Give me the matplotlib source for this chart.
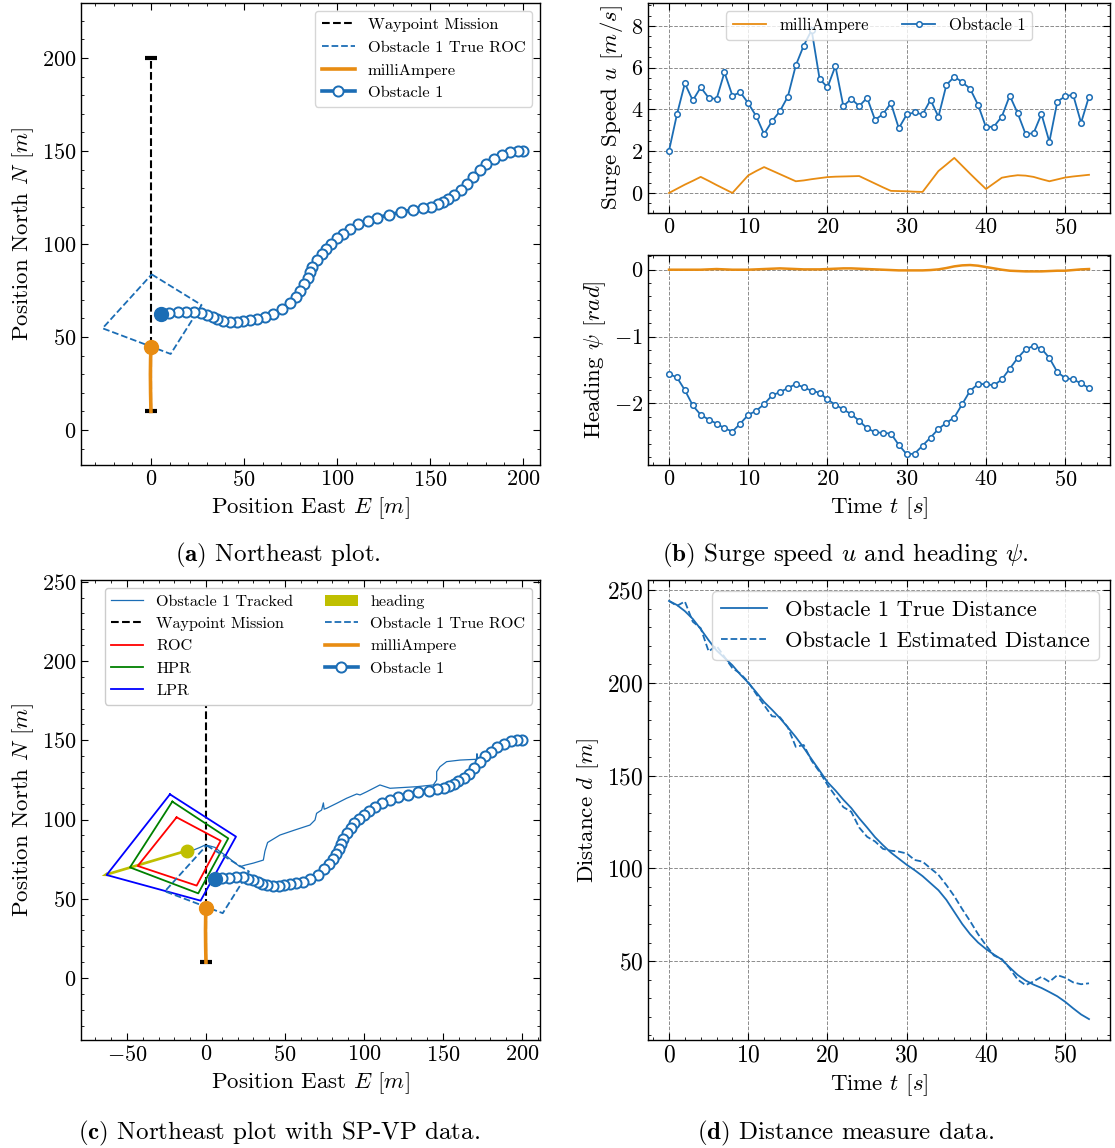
import numpy as np
import matplotlib.pyplot as plt
from matplotlib.ticker import MultipleLocator

plt.rcParams.update({
    'font.family': 'cmr10',
    'mathtext.fontset': 'cm',
    'axes.formatter.use_mathtext': True,
    'axes.linewidth': 1.0,
    'xtick.direction': 'in', 'ytick.direction': 'in',
    'xtick.top': True, 'ytick.right': True,
    'xtick.minor.visible': True, 'ytick.minor.visible': True,
    'xtick.major.size': 5, 'ytick.major.size': 5,
    'xtick.minor.size': 2.5, 'ytick.minor.size': 2.5,
    'xtick.major.width': 0.8, 'ytick.major.width': 0.8,
    'xtick.minor.width': 0.6, 'ytick.minor.width': 0.6,
    'xtick.labelsize': 16, 'ytick.labelsize': 16,
    'axes.labelsize': 16.5,
})

BLUE = '#1b6db5'
ORANGE = '#e88c12'

# time axis (s)
t = np.arange(54)

# obstacle 1 position, east / north (m), in order of travel
obs_east = [200.2, 197.1, 193.0, 188.5, 184.4, 180.1, 176.9, 173.3, 169.7, 166.5,
            163.1, 159.5, 156.8, 154.1, 150.4, 146.1, 141.0, 134.4, 127.8, 121.3,
            116.5, 111.5, 107.0, 103.4, 99.8, 96.6, 93.9, 91.8, 89.1, 86.7,
            85.5, 84.2, 82.4, 80.1, 78.0, 74.7, 70.6, 65.8, 61.3, 56.8,
            53.2, 49.6, 46.4, 42.5, 38.5, 35.3, 33.2, 29.9, 26.9, 23.3,
            18.8, 14.3, 9.9, 5.4]
obs_north = [150.2, 150.0, 149.5, 147.8, 145.5, 142.8, 139.8, 136.2, 132.3, 128.9,
             126.2, 124.0, 122.6, 121.3, 120.1, 119.2, 118.3, 117.2, 115.6, 114.2,
             112.4, 110.6, 107.9, 105.6, 103.0, 100.2, 97.5, 94.6, 91.4, 87.8,
             84.8, 81.5, 78.3, 74.9, 71.7, 68.5, 65.1, 62.4, 60.6, 59.7,
             59.1, 58.6, 58.1, 58.1, 58.6, 59.5, 60.6, 61.8, 62.7, 63.6,
             63.6, 63.4, 63.1, 62.2]

# own ship (milliAmpere) track
ma_east = [0.0, -0.2, -0.3, -0.2, 0.0]
ma_north = [10.0, 20.0, 30.0, 38.0, 44.4]

# waypoint mission
wp_east = [0, 0]
wp_north = [10, 200]

# true region of collision around obstacle 1
roc_true_east = [0.4, 27.2, 10.6, -26.0, 0.4]
roc_true_north = [83.7, 67.2, 40.9, 54.7, 83.7]

# tracked obstacle from SP-VP
trk_east = [200.8, 192.4, 183.9, 177.6, 174.5, 172.0, 171.5, 171.3, 160.8, 152.3,
            148.1, 146.0, 146.0, 143.9, 133.3, 116.5, 110.1, 101.7, 97.5, 95.4,
            89.0, 82.7, 76.4, 74.8, 74.3, 73.2, 70.0, 69.0, 65.8, 56.3,
            46.8, 39.0, 37.3, 36.3, 30.0, 24.7, 21.5, 17.3, 13.1, 8.9, 5.7,
            2.5, -0.6, -3.8, -8.0, -12.2]
trk_north = [150.5, 149.7, 146.0, 142.2, 138.6, 138.0, 141.5, 138.0, 137.5, 136.5,
             133.3, 130.2, 124.9, 121.8, 120.7, 119.7, 121.8, 117.5, 115.5, 116.1,
             113.4, 110.2, 107.1, 106.5, 110.5, 106.0, 103.9, 99.7, 96.5, 93.4,
             90.2, 85.5, 80.0, 74.4, 72.5, 71.2, 70.2, 73.4, 76.9, 79.7, 82.4,
             83.3, 83.9, 82.4, 80.7, 80.1]
est_pos = (-12.2, 80.3)
heading_tip = (-66.0, 64.4)

# SP-VP regions
roc_east = [-18.6, 9.3, -5.9, -43.2, -18.6]
roc_north = [101.4, 86.6, 58.3, 70.7, 101.4]
hpr_east = [-21.3, 14.1, -4.9, -48.1, -21.3]
hpr_north = [111.3, 88.1, 53.4, 69.8, 111.3]
lpr_east = [-22.8, 19.0, -3.4, -62.9, -22.8]
lpr_north = [115.9, 89.2, 48.8, 65.0, 115.9]

# surge speed (m/s)
u_obs = [2.02, 3.76, 5.25, 4.43, 5.06, 4.56, 4.50, 5.78, 4.66, 4.82,
         4.30, 3.68, 2.82, 3.44, 3.92, 4.62, 6.11, 7.06, 7.80, 5.47,
         5.06, 6.08, 4.16, 4.51, 4.16, 4.56, 3.50, 3.78, 4.30, 3.10,
         3.76, 3.86, 3.76, 4.46, 3.65, 5.17, 5.57, 5.31, 4.99, 4.22,
         3.15, 3.18, 3.66, 4.66, 3.82, 2.82, 2.86, 3.78, 2.45, 4.37,
         4.64, 4.70, 3.36, 4.62]
u_ma = [0.00, 0.20, 0.40, 0.58, 0.77, 0.58, 0.38, 0.19, 0.00, 0.42,
        0.84, 1.05, 1.24, 1.07, 0.90, 0.73, 0.56, 0.60, 0.66, 0.71,
        0.76, 0.78, 0.79, 0.80, 0.81, 0.63, 0.45, 0.27, 0.10, 0.09,
        0.08, 0.06, 0.05, 0.55, 1.05, 1.36, 1.68, 1.30, 0.92, 0.55,
        0.19, 0.46, 0.73, 0.80, 0.85, 0.83, 0.77, 0.66, 0.56, 0.65,
        0.74, 0.79, 0.83, 0.87]

# heading (rad)
psi_obs = [-1.56, -1.61, -1.80, -2.03, -2.17, -2.24, -2.30, -2.37, -2.42, -2.30,
           -2.17, -2.11, -2.01, -1.88, -1.83, -1.77, -1.71, -1.76, -1.81, -1.84,
           -1.94, -2.02, -2.09, -2.16, -2.26, -2.37, -2.43, -2.44, -2.45, -2.62,
           -2.76, -2.75, -2.63, -2.51, -2.38, -2.29, -2.21, -2.01, -1.81, -1.71,
           -1.71, -1.73, -1.64, -1.48, -1.32, -1.19, -1.14, -1.18, -1.32, -1.53,
           -1.62, -1.64, -1.70, -1.77]
psi_ma = [0.0, 0.0, 0.0, 0.0, 0.0, 0.005, 0.01, 0.005, 0.0, 0.0,
          0.0, 0.005, 0.01, 0.015, 0.02, 0.015, 0.01, 0.005, 0.005, 0.005,
          0.01, 0.015, 0.02, 0.02, 0.015, 0.01, 0.005, 0.0, -0.005, -0.01,
          -0.01, -0.01, -0.01, -0.005, 0.005, 0.025, 0.05, 0.065, 0.07, 0.06,
          0.04, 0.02, 0.0, -0.015, -0.02, -0.025, -0.025, -0.025, -0.02, -0.015,
          -0.015, -0.005, 0.005, 0.01]

# distance to obstacle 1 (m)
dist_true = [244.2, 242.0, 238.7, 234.5, 229.0, 223.0, 217.5, 213.5, 209.5, 204.5,
             200.1, 195.0, 189.7, 185.5, 181.0, 176.0, 170.8, 165.0, 158.8, 152.7,
             146.5, 142.0, 137.0, 132.5, 127.0, 122.0, 116.8, 112.5, 108.5, 105.2,
             101.9, 99.0, 95.8, 92.0, 88.2, 83.0, 76.5, 70.0, 64.5, 60.0,
             56.5, 53.5, 50.8, 46.5, 42.5, 39.5, 37.3, 35.5, 33.3, 31.0,
             28.0, 24.5, 21.2, 18.7]
dist_est = [244.2, 241.5, 243.9, 233.0, 229.5, 217.0, 220.0, 214.0, 208.0, 205.0,
            200.5, 194.0, 188.0, 182.0, 181.5, 176.0, 165.5, 166.5, 158.0, 152.0,
            145.0, 139.0, 133.0, 130.5, 122.0, 117.0, 114.5, 110.5, 109.5, 109.0,
            108.0, 104.5, 103.6, 100.0, 96.5, 91.0, 85.0, 78.0, 71.5, 64.5,
            58.5, 53.0, 51.0, 46.0, 40.0, 37.0, 39.0, 41.5, 38.8, 42.4,
            41.0, 38.5, 37.5, 38.0]

W, H = 1115, 1148
fig = plt.figure(figsize=(W / 100, H / 100), dpi=100)


def rect(left, right, top, bottom):
    return [left / W, 1 - bottom / H, (right - left) / W, (bottom - top) / H]


def northeast_ticks(ax):
    ax.set_xlabel(r'Position East $E$ $[m]$')
    ax.set_ylabel(r'Position North $N$ $[m]$')
    ax.xaxis.set_major_locator(MultipleLocator(50))
    ax.xaxis.set_minor_locator(MultipleLocator(10))
    ax.yaxis.set_major_locator(MultipleLocator(50))
    ax.yaxis.set_minor_locator(MultipleLocator(10))


def draw_vessels(ax):
    ax.plot(roc_true_east, roc_true_north, '--', color=BLUE, lw=1.3,
            label='Obstacle 1 True ROC')
    ax.plot(ma_east, ma_north, color=ORANGE, lw=2.6, label='milliAmpere')
    ax.plot(ma_east[-1], ma_north[-1], 'o', color=ORANGE, ms=10)
    ax.plot(obs_east, obs_north, '-o', color=BLUE, lw=2.6, ms=7.3,
            mfc='white', mew=1.4, label='Obstacle 1')
    ax.plot(obs_east[-1], obs_north[-1], 'o', color=BLUE, ms=10)


def draw_waypoints(ax):
    ax.plot(wp_east, wp_north, 'k--', lw=1.5, label='Waypoint Mission')
    ax.plot(wp_east, wp_north, ls='none', marker='_', ms=9, mew=3, color='k')


# (a) northeast plot
ax_a = fig.add_axes(rect(81, 540, 3, 465))
draw_waypoints(ax_a)
draw_vessels(ax_a)
northeast_ticks(ax_a)
ax_a.set_xlim(-37.6, 209.1)
ax_a.set_ylim(-18.8, 229.6)
ax_a.legend(loc='upper right', fontsize=11.8)

# (b) surge speed and heading
ax_u = fig.add_axes(rect(648, 1110, 3, 213))
ax_u.plot(t, u_ma, color=ORANGE, lw=1.3, label='milliAmpere')
ax_u.plot(t, u_obs, '-o', color=BLUE, lw=1.3, ms=4, mfc='white', mew=1.1,
          label='Obstacle 1')
ax_u.set_ylim(-0.96, 9.1)
ax_u.set_ylabel(r'Surge Speed $u$ $[m/s]$')
ax_u.yaxis.set_major_locator(MultipleLocator(2))
ax_u.yaxis.set_minor_locator(MultipleLocator(0.5))
ax_u.legend(loc='upper center', ncol=2, fontsize=12)

ax_psi = fig.add_axes(rect(648, 1110, 255, 465))
ax_psi.plot(t, psi_ma, color=ORANGE, lw=1.8)
ax_psi.plot(t, psi_obs, '-o', color=BLUE, lw=1.3, ms=4, mfc='white', mew=1.1)
ax_psi.set_ylim(-2.92, 0.22)
ax_psi.set_ylabel(r'Heading $\psi$ $[rad]$')
ax_psi.set_xlabel(r'Time $t$ $[s]$')
ax_psi.yaxis.set_major_locator(MultipleLocator(1))
ax_psi.yaxis.set_minor_locator(MultipleLocator(0.2))

for ax in (ax_u, ax_psi):
    ax.xaxis.set_major_locator(MultipleLocator(10))
    ax.xaxis.set_minor_locator(MultipleLocator(2))
    ax.grid(True, which='major', ls='--', color='0.55', lw=0.7)

# (c) northeast plot with SP-VP data
ax_c = fig.add_axes(rect(81, 540, 580, 1040))
ax_c.plot(trk_east, trk_north, color=BLUE, lw=0.9, label='Obstacle 1 Tracked')
draw_waypoints(ax_c)
ax_c.plot(roc_east, roc_north, color='red', lw=1.3, label='ROC')
ax_c.plot(hpr_east, hpr_north, color='green', lw=1.3, label='HPR')
ax_c.plot(lpr_east, lpr_north, color='blue', lw=1.3, label='LPR')
ax_c.arrow(est_pos[0], est_pos[1], heading_tip[0] - est_pos[0],
           heading_tip[1] - est_pos[1], width=1.7, head_width=2.8,
           head_length=4, length_includes_head=True, color='y', lw=0,
           label='heading')
ax_c.plot(*est_pos, 'o', color='y', ms=9)
draw_vessels(ax_c)
northeast_ticks(ax_c)
ax_c.set_xlim(-79.1, 211.4)
ax_c.set_ylim(-39.1, 251.1)
ax_c.legend(loc='upper right', ncol=2, fontsize=11.6, framealpha=1)

# (d) distance measure
ax_d = fig.add_axes(rect(648, 1110, 580, 1040))
ax_d.plot(t, dist_true, color=BLUE, lw=1.3, label='Obstacle 1 True Distance')
ax_d.plot(t, dist_est, '--', color=BLUE, lw=1.3,
          label='Obstacle 1 Estimated Distance')
ax_d.set_xlabel(r'Time $t$ $[s]$')
ax_d.set_ylabel(r'Distance $d$ $[m]$')
ax_d.xaxis.set_major_locator(MultipleLocator(10))
ax_d.xaxis.set_minor_locator(MultipleLocator(2))
ax_d.yaxis.set_major_locator(MultipleLocator(50))
ax_d.yaxis.set_minor_locator(MultipleLocator(10))
ax_d.tick_params(labelsize=17)
ax_d.grid(True, which='major', ls='--', color='0.55', lw=0.7)
ax_d.legend(loc='upper right', fontsize=16.3)

# sub-captions
cap = dict(ha='center', va='center', fontsize=18)
fig.text(278 / W, 1 - 555 / H, r'$\mathbf{(a)}$ Northeast plot.', **cap)
fig.text(845 / W, 1 - 555 / H,
         r'$\mathbf{(b)}$ Surge speed $u$ and heading $\psi$.', **cap)
fig.text(279 / W, 1 - 1133 / H,
         r'$\mathbf{(c)}$ Northeast plot with SP-VP data.', **cap)
fig.text(845 / W, 1 - 1133 / H, r'$\mathbf{(d)}$ Distance measure data.', **cap)

fig.savefig('out.png', dpi=100)
